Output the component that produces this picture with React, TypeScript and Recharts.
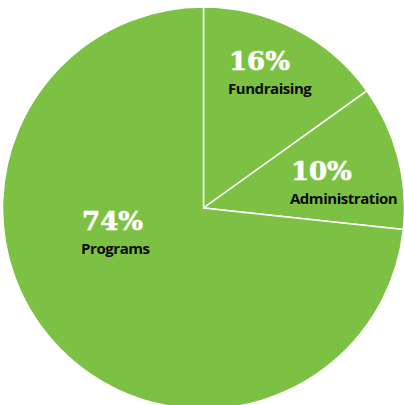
import React from "react";
import { PieChart, Pie, Cell } from "recharts";

const categories = ["Fundraising", "Administration", "Programs"];
const shares = [15.1, 11.6, 73.3];
const percentLabels = ["16%", "10%", "74%"];

const data = categories.map((name, i) => ({ name, value: shares[i], pct: percentLabels[i] }));

const GREEN = "#7cc144";

// label placement relative to pie centre, as fractions of the radius
const labelLayout: Record<string, { dx: number; dy: number }> = {
  Fundraising: { dx: 0.127, dy: -0.687 },
  Administration: { dx: 0.435, dy: -0.139 },
  Programs: { dx: -0.604, dy: 0.109 },
};

const renderLabel = (props: any) => {
  const { cx, cy, outerRadius, payload, name } = props;
  const key = (payload && payload.name) || name;
  const l = labelLayout[key];
  if (!l) return null;
  const x = cx + l.dx * outerRadius;
  const y = cy + l.dy * outerRadius;
  return (
    <g>
      <text
        x={x}
        y={y}
        textAnchor="start"
        fill="#ffffff"
        stroke="#ffffff"
        strokeWidth={0.6}
        style={{ fontFamily: "'DejaVu Serif', serif", fontWeight: 700, fontSize: 26 }}
      >
        {payload.pct}
      </text>
      <text
        x={x - 1}
        y={y + 24}
        textAnchor="start"
        fill="#0a0a0a"
        style={{ fontFamily: "'Open Sans', sans-serif", fontWeight: 700, fontSize: 15, letterSpacing: -0.45 }}
      >
        {key}
      </text>
    </g>
  );
};

export default function App() {
  return (
    <div style={{ position: "absolute", left: 0, top: 0, width: 404, height: 405, background: "#fff" }}>
      <PieChart width={404} height={405} margin={{ top: 0, right: 0, bottom: 0, left: 0 }}>
        <Pie
          data={data}
          dataKey="value"
          nameKey="name"
          cx={203.5}
          cy={208}
          outerRadius={201}
          startAngle={90}
          endAngle={-270}
          stroke="#ffffff"
          strokeWidth={1.5}
          label={renderLabel}
          labelLine={false}
          isAnimationActive={false}
        >
          {data.map((d) => (
            <Cell key={d.name} fill={GREEN} />
          ))}
        </Pie>
      </PieChart>
    </div>
  );
}
